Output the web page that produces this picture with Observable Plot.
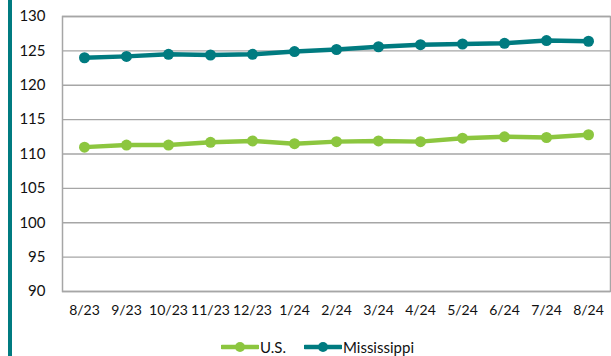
<!DOCTYPE html>
<html>
<head>
<meta charset="utf-8">
<script src="https://cdn.jsdelivr.net/npm/d3@7"></script>
<script src="https://cdn.jsdelivr.net/npm/@observablehq/plot@0.6"></script>
<style>
  body { margin: 0; background: #fff; font-family: Lato, "Open Sans", sans-serif; }
  #wrap { position: relative; width: 611px; height: 356px; overflow: hidden; }
  #bar { position: absolute; left: 8px; top: 0; width: 4px; height: 356px; background: #007b80; }
  #chart { position: absolute; left: 0; top: 0; }
  #legend { position: absolute; left: 12px; top: 338px; width: 611px; display: flex; justify-content: center; gap: 18px; font-size: 15px; color: #111; }
  .item { display: flex; align-items: center; gap: 1px; }
</style>
</head>
<body>
<div id="wrap">
  <div id="bar"></div>
  <div id="chart"></div>
  <div id="legend"></div>
</div>
<script>
const months = ["8/23","9/23","10/23","11/23","12/23","1/24","2/24","3/24","4/24","5/24","6/24","7/24","8/24"];
const usValues = [111.0, 111.3, 111.3, 111.7, 111.9, 111.5, 111.8, 111.9, 111.8, 112.3, 112.5, 112.4, 112.8];
const msValues = [124.0, 124.2, 124.5, 124.4, 124.5, 124.9, 125.2, 125.6, 125.9, 126.0, 126.1, 126.5, 126.4];
const seriesNames = ["U.S.", "Mississippi"];
const seriesColors = ["#8cc63f", "#007b80"];
const yTicks = [90, 95, 100, 105, 110, 115, 120, 125, 130];

const data = [];
months.forEach((m, i) => {
  data.push({month: m, value: usValues[i], series: seriesNames[0]});
  data.push({month: m, value: msValues[i], series: seriesNames[1]});
});

const chart = Plot.plot({
  width: 611,
  height: 332,
  marginLeft: 62,
  marginRight: 1,
  marginTop: 16,
  marginBottom: 41,
  style: {fontFamily: "Lato, 'Open Sans', sans-serif", fontSize: "15px", color: "#111", background: "transparent"},
  x: {type: "point", domain: months, padding: 0.5, label: null},
  y: {domain: [90, 130], ticks: yTicks, label: null},
  color: {domain: seriesNames, range: seriesColors},
  marks: [
    Plot.gridY(yTicks, {stroke: "#a6a6a6", strokeOpacity: 1, strokeWidth: 1.3}),
    Plot.frame({stroke: "#a6a6a6", strokeWidth: 1.5}),
    Plot.axisY(yTicks, {tickSize: 0, tickPadding: 17, label: null, fontSize: 15}),
    Plot.axisX({tickSize: 0, tickPadding: 14, label: null, fontSize: 14}),
    Plot.line(data, {x: "month", y: "value", z: "series", stroke: "series", strokeWidth: 4.5}),
    Plot.dot(data, {x: "month", y: "value", fill: "series", r: 5.5})
  ]
});
document.getElementById("chart").appendChild(chart);

const legend = document.getElementById("legend");
seriesNames.forEach((name, i) => {
  const item = document.createElement("div");
  item.className = "item";
  item.innerHTML = `<svg width="38" height="14"><line x1="1" y1="7" x2="37" y2="7" stroke="${seriesColors[i]}" stroke-width="4.5" stroke-linecap="round"/><circle cx="19" cy="7" r="5" fill="${seriesColors[i]}"/></svg><span>${name}</span>`;
  legend.appendChild(item);
});
</script>
</body>
</html>
